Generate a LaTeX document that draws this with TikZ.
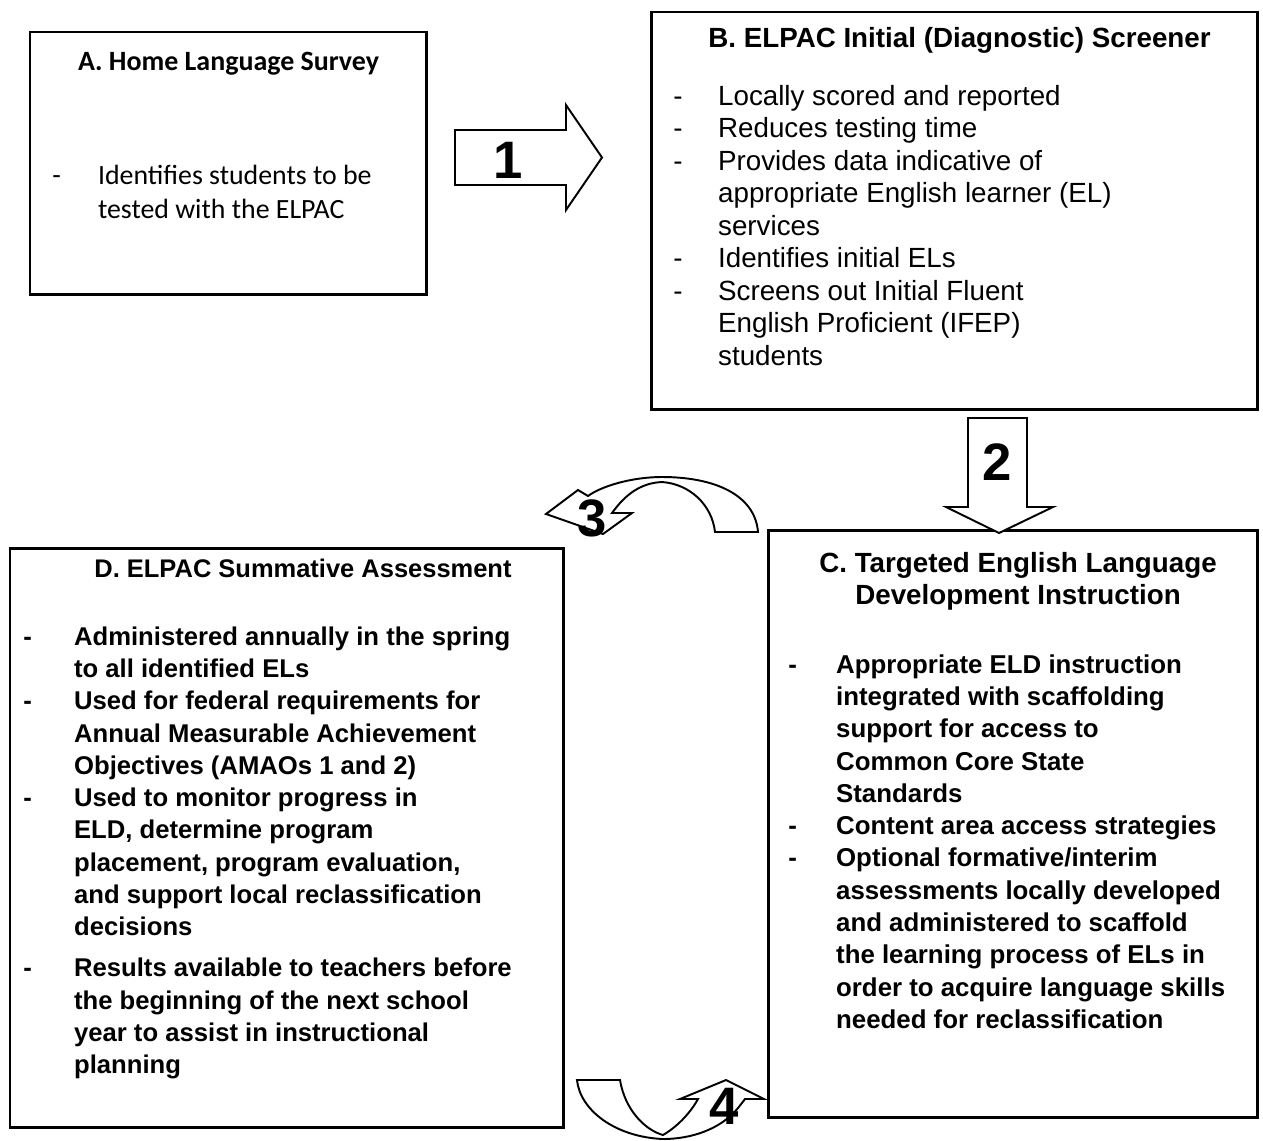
\documentclass[tikz,border=0pt]{standalone}
\usepackage{fontspec}
\setmainfont{Liberation Sans}
\newfontfamily\calibri{Carlito}
\usepackage{tikz}

\begin{document}
\begin{tikzpicture}[x=0.02cm,y=-0.02cm,
  box/.style={draw, line width=1.7pt, outer sep=0pt, inner sep=0pt, anchor=north west},
  bigarrow/.style={draw, line width=1.1pt, fill=white, line join=miter},
  num/.style={font=\fontsize{30}{30}\selectfont\bfseries, inner sep=0pt},
  title/.style={inner sep=0pt, anchor=base},
  body/.style={inner sep=0pt, anchor=base west}]
\useasboundingbox (0,0) rectangle (1263,1140);
% the four boxes
\node[box, minimum width=7.94cm, minimum height=5.26cm] (boxA) at (30,32) {};
\node[box, minimum width=12.14cm, minimum height=7.96cm] (boxB) at (651,12) {};
\node[box, minimum width=9.8cm, minimum height=11.76cm] (boxC) at (768,530) {};
\node[box, minimum width=11.08cm, minimum height=11.6cm] (boxD) at (10,548) {};
% titles
\node[title, font=\calibri\fontsize{15.9}{19.8}\selectfont\bfseries] (titA) at (228.5,70) {A. Home Language Survey};
\node[title, font=\fontsize{15.8}{18.5}\selectfont\bfseries] (titB) at (959.5,47) {B. ELPAC Initial (Diagnostic) Screener};
\node[title, font=\fontsize{15.8}{18.4}\selectfont\bfseries] (titC) at (1018,572)
  {\begin{tabular}[t]{@{}c@{}}C. Targeted English Language\\Development Instruction\end{tabular}};
\node[title, font=\fontsize{14.5}{18.4}\selectfont\bfseries] (titD) at (303,577) {D. ELPAC Summative Assessment};
% lists
\node[body, font=\calibri\fontsize{15.85}{19.8}\selectfont] (listA) at (52,184)
  {\begin{tabular}[t]{@{}p{26pt}@{}l@{}}
  - & Identifies students to be\\
    & tested with the ELPAC
  \end{tabular}};
\node[body, font=\fontsize{15.8}{18.5}\selectfont] (listB) at (673,105)
  {\begin{tabular}[t]{@{}p{25.5pt}@{}l@{}}
  - & Locally scored and reported\\
  - & Reduces testing time\\
  - & Provides data indicative of\\
    & appropriate English learner (EL)\\
    & services\\
  - & Identifies initial ELs\\
  - & Screens out Initial Fluent\\
    & English Proficient (IFEP)\\
    & students
  \end{tabular}};
\node[body, font=\fontsize{14.7}{18.4}\selectfont\bfseries] (listC) at (788,673)
  {\begin{tabular}[t]{@{}p{27.2pt}@{}l@{}}
  - & Appropriate ELD instruction\\
    & integrated with scaffolding\\
    & support for access to\\
    & Common Core State\\
    & Standards\\
  - & Content area access strategies\\
  - & Optional formative/interim\\
    & assessments locally developed\\
    & and administered to scaffold\\
    & the learning process of ELs in\\
    & order to acquire language skills\\
    & needed for reclassification
  \end{tabular}};
\node[body, font=\fontsize{14.6}{18.4}\selectfont\bfseries] (listD) at (23,645)
  {\begin{tabular}[t]{@{}p{28.9pt}@{}l@{}}
  - & Administered annually in the spring\\
    & to all identified ELs\\
  - & Used for federal requirements for\\
    & Annual Measurable Achievement\\
    & Objectives (AMAOs 1 and 2)\\
  - & Used to monitor progress in\\
    & ELD, determine program\\
    & placement, program evaluation,\\
    & and support local reclassification\\
    & decisions\\[4.8pt]
  - & Results available to teachers before\\
    & the beginning of the next school\\
    & year to assist in instructional\\
    & planning
  \end{tabular}};
% draw the arrows
\draw[bigarrow] (455,130) -- (566,130) -- (566,105) -- (602,157.5) -- (566,210) -- (566,185) -- (455,185) -- cycle;
\draw[bigarrow] (968,418) -- (968,507) -- (946,507) -- (999,533) -- (1053,507) -- (1027,507) -- (1027,418) -- cycle;
\draw[bigarrow] (715,532) -- (758,532) .. controls (755,495) and (715,477) .. (662,477)
  .. controls (630,477) and (600,487) .. (588,496) -- (578,490) -- (546,514) -- (603,534) -- (632,513) -- (612,513)
  .. controls (625,495) and (640,483) .. (662,482) .. controls (690,484) and (712,505) .. (715,532) -- cycle;
\draw[bigarrow] (577,1080) -- (620,1080) .. controls (625,1110) and (645,1130) .. (663,1135)
  .. controls (680,1125) and (692,1110) .. (698,1099) -- (680,1099) -- (726,1080) -- (764,1099) -- (745,1099) -- (738,1108)
  .. controls (720,1130) and (690,1139) .. (663,1139) .. controls (615,1137) and (580,1110) .. (577,1080) -- cycle;
\node[num] (n1) at (508,160) {1};
\node[num] (n2) at (997,462) {2};
\node[num] (n3) at (592,518) {3};
\node[num] (n4) at (724,1106) {4};
\end{tikzpicture}
\end{document}
